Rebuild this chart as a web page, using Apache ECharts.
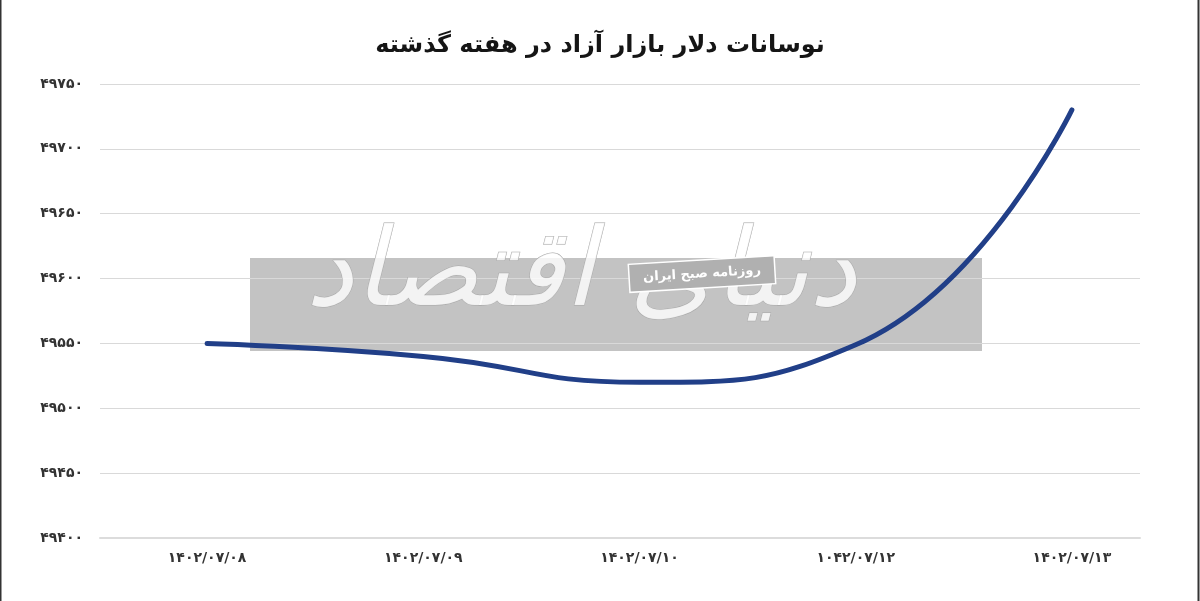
<!DOCTYPE html>
<html>
<head>
<meta charset="utf-8">
<script src="https://cdn.jsdelivr.net/npm/echarts@6/dist/echarts.min.js"></script>
<style>
html,body{margin:0;padding:0;background:#fff;}
#chart{width:1200px;height:601px;}
</style>
</head>
<body>
<div id="chart"></div>
<script>
const titleText = 'نوسانات دلار بازار آزاد در هفته گذشته';
const categories = ['۱۴۰۲/۰۷/۰۸', '۱۴۰۲/۰۷/۰۹', '۱۴۰۲/۰۷/۱۰', '۱۰۴۲/۰۷/۱۲', '۱۴۰۲/۰۷/۱۳'];
const dollarValues = [49550, 49540, 49520, 49549, 49730];
const yMin = 49400, yMax = 49750, yStep = 50;
const watermarkMain = 'دنیای اقتصاد';
const watermarkSub = 'روزنامه صبح ایران';

const faDigits = s => String(s).replace(/\d/g, d => '۰۱۲۳۴۵۶۷۸۹'[d]);
const FONT = '"DejaVu Sans", "Noto Sans", sans-serif';

const chart = echarts.init(document.getElementById('chart'), null, {renderer: 'canvas'});
chart.setOption({
  backgroundColor: '#ffffff',
  animation: false,
  title: {
    text: titleText, left: 'center', top: 29,
    textStyle: {fontFamily: FONT, fontSize: 24, fontWeight: 'bold', color: '#151515'}
  },
  grid: [
    {left: 100, right: 60, top: 84, bottom: 63},
    {left: 99, right: 20, top: 84, bottom: 63}
  ],
  xAxis: [
    {gridIndex: 0, type: 'category', data: categories, boundaryGap: true,
     axisLine: {show: true, lineStyle: {color: '#dcdcdc', width: 2}},
     axisTick: {show: false}, axisLabel: {show: false}, splitLine: {show: false}},
    {gridIndex: 1, type: 'category', data: categories, boundaryGap: true,
     axisLine: {show: false}, axisTick: {show: false},
     axisLabel: {show: true, margin: 13, fontFamily: FONT, fontSize: 14, fontWeight: 'bold', color: '#333333'},
     splitLine: {show: false}}
  ],
  yAxis: [
    {gridIndex: 0, type: 'value', min: yMin, max: yMax, interval: yStep,
     axisLine: {show: false}, axisTick: {show: false},
     axisLabel: {margin: 17, fontFamily: FONT, fontSize: 14, fontWeight: 'bold', color: '#333333',
                 formatter: v => faDigits(v)},
     splitLine: {lineStyle: {color: '#d9d9d9', width: 1}}},
    {gridIndex: 1, type: 'value', min: yMin, max: yMax, interval: yStep,
     show: false, splitLine: {show: false}}
  ],
  graphic: [
    {type: 'rect', z: 0, silent: true, shape: {x: 250, y: 258, width: 732, height: 93},
     style: {fill: 'rgba(170,170,170,0.7)'}},
    {type: 'text', z: 1, silent: true, left: 305, top: 222,
     style: {text: watermarkMain, font: 'italic 108px ' + FONT, fill: 'rgba(255,255,255,0.8)',
             stroke: '#a8a8a8', lineWidth: 1}},
    {type: 'group', z: 3, silent: true, x: 702, y: 274, rotation: 0.06, children: [
      {type: 'rect', z: 3, shape: {x: -73, y: -14, width: 146, height: 28},
       style: {fill: '#b0b0b0', stroke: '#ffffff', lineWidth: 1.5}},
      {type: 'text', z: 4, style: {text: watermarkSub, x: 0, y: 0, align: 'center', verticalAlign: 'middle',
       font: 'bold 13px ' + FONT, fill: '#ffffff'}}
    ]},
    {type: 'rect', z: 10, silent: true, shape: {x: 0.5, y: -2, width: 1198, height: 605},
     style: {fill: 'none', stroke: '#333', lineWidth: 2}}
  ],
  series: [{
    type: 'line', xAxisIndex: 1, yAxisIndex: 1, data: dollarValues,
    smooth: 0.5, symbol: 'none', z: 5,
    lineStyle: {color: '#213f88', width: 5, cap: 'round'}
  }]
});
</script>
</body>
</html>
